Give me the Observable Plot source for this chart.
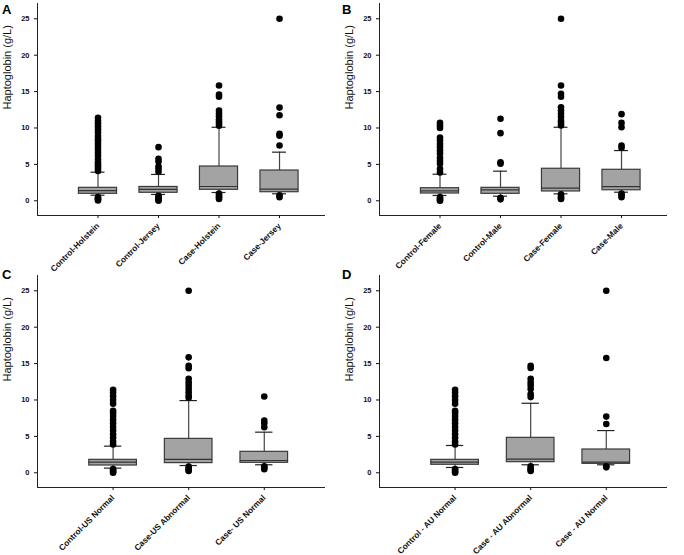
<!DOCTYPE html>
<html>
<head>
<meta charset="utf-8">
<script src="https://cdn.jsdelivr.net/npm/d3@7"></script>
<script src="https://cdn.jsdelivr.net/npm/@observablehq/plot@0.6"></script>
<style>
  html, body { margin: 0; padding: 0; background: #fff; }
  #root { position: relative; width: 684px; height: 555px; background: #fff; font-family: "Liberation Sans", Arial, sans-serif; overflow: hidden; }
  .panel { position: absolute; width: 342px; }
  .letter { position: absolute; font-size: 13px; font-weight: bold; line-height: 13px; color: #000; }
</style>
</head>
<body>
<div id="root"></div>
<script>
// ---------- Panel A ----------
const catsA = ["Control-Holstein", "Control-Jersey", "Case-Holstein", "Case-Jersey"];
const loA  = [0.77, 0.87, 1.14, 0.96];
const q1A  = [0.96, 1.10, 1.51, 1.18];
const medA = [1.41, 1.56, 1.96, 1.60];
const q3A  = [1.78, 1.90, 4.71, 4.16];
const hiA  = [3.93, 3.62, 10.1, 6.68];
const outA = [
  [11.4, 11.0, 10.6, 10.2, 9.8, 9.4, 8.9, 8.5, 8.2, 7.8, 7.4, 7.0, 6.6, 6.2, 5.7, 5.3, 5.0, 4.7, 4.4, 4.1, 0.5, 0.35, 0.2, 0.05],
  [7.37, 5.77, 5.4, 4.7, 4.4, 4.0, 0.7, 0.5, 0.3, 0.1, 0.0],
  [15.84, 14.6, 14.3, 12.4, 12.0, 11.6, 11.2, 10.9, 10.6, 10.3, 1.0, 0.8, 0.6, 0.4, 0.25],
  [25.0, 12.8, 11.75, 9.2, 8.95, 7.6, 0.75, 0.5]
];

// ---------- Panel B ----------
const catsB = ["Control-Female", "Control-Male", "Case-Female", "Case-Male"];
const loB  = [0.73, 0.63, 0.96, 1.18];
const q1B  = [1.00, 0.96, 1.28, 1.45];
const medB = [1.37, 1.51, 1.74, 1.95];
const q3B  = [1.73, 1.78, 4.40, 4.26];
const hiB  = [3.65, 4.07, 10.1, 6.9];
const outB = [
  [10.7, 10.35, 10.0, 8.7, 8.3, 7.8, 7.4, 6.9, 6.5, 5.9, 5.5, 5.1, 4.4, 3.9, 0.5, 0.3, 0.1, 0.0],
  [11.26, 9.29, 5.3, 5.1, 0.4, 0.2],
  [25.0, 15.84, 14.7, 14.3, 12.85, 12.4, 11.95, 11.5, 11.0, 10.7, 10.35, 0.9, 0.6, 0.4, 0.25],
  [11.9, 10.7, 10.1, 7.6, 7.3, 1.0, 0.8, 0.5]
];

// ---------- Panel C ----------
const catsC = ["Control-US Normal", "Case-US Abnormal", "Case- US Normal"];
const loC  = [0.64, 1.0, 1.1];
const q1C  = [1.0, 1.33, 1.37];
const medC = [1.46, 1.83, 1.69];
const q3C  = [1.78, 4.66, 2.88];
const hiC  = [3.66, 9.92, 5.58];
const outC = [
  [11.4, 11.0, 10.5, 10.0, 9.5, 8.5, 8.2, 7.8, 7.3, 6.8, 6.3, 5.8, 5.3, 4.8, 4.3, 3.9, 0.5, 0.3, 0.1, 0.0],
  [25.0, 15.86, 14.7, 14.35, 12.9, 12.4, 11.97, 11.5, 11.06, 10.6, 10.3, 0.85, 0.6, 0.4, 0.25],
  [10.47, 7.18, 6.8, 6.26, 0.9, 0.7, 0.5]
];

// ---------- Panel D ----------
const catsD = ["Control - AU Normal", "Case - AU Abnormal", "Case - AU Normal"];
const loD  = [0.73, 1.1, 1.1];
const q1D  = [1.1, 1.46, 1.23];
const medD = [1.46, 1.87, 1.46];
const q3D  = [1.78, 4.8, 3.2];
const hiD  = [3.75, 9.55, 5.8];
const outD = [
  [11.4, 11.0, 10.5, 10.0, 9.5, 8.5, 8.2, 7.8, 7.3, 6.8, 6.3, 5.8, 5.3, 4.8, 4.3, 3.9, 0.5, 0.3, 0.1, 0.0],
  [14.7, 14.4, 12.9, 12.4, 12.0, 11.5, 10.8, 10.4, 0.9, 0.6, 0.4, 0.25],
  [25.0, 15.77, 7.72, 6.7, 0.9, 0.75]
];

const yTicks = [0, 5, 10, 15, 20, 25];
const yLabel = "Haptoglobin (g/L)";

function panel(cats, lo, q1, med, q3, hi, outs, xMax, h) {
  const rows = cats.map((c, k) => ({i: k + 1, lo: lo[k], q1: q1[k], med: med[k], q3: q3[k], hi: hi[k]}));
  const pts = outs.flatMap((arr, k) => arr.map(v => ({i: k + 1, v})));
  const bw = 0.63 / 2, cw = 0.23 / 2;
  const yDom = [-2.02, 27.1];
  return Plot.plot({
    width: 342, height: h,
    marginLeft: 37, marginRight: 17, marginTop: 3, marginBottom: h - 215,
    style: {fontFamily: "'Liberation Sans', Arial, sans-serif", background: "transparent", color: "#111", overflow: "visible"},
    x: {domain: [0, xMax]},
    y: {domain: yDom},
    marks: [
      Plot.ruleX([0], {stroke: "#222", strokeWidth: 1}),
      Plot.ruleY([yDom[0]], {stroke: "#222", strokeWidth: 1}),
      Plot.axisY({ticks: yTicks, tickSize: 3, tickPadding: 5, fontSize: 7.5, fontWeight: "bold", label: null}),
      Plot.axisX({ticks: rows.map(d => d.i), tickFormat: i => cats[i - 1], tickRotate: -45, tickSize: 3, tickPadding: 6, fontSize: 8.3, fontWeight: "bold", label: null}),
      Plot.text([yLabel], {frameAnchor: "left", dx: -30, rotate: -90, fontSize: 11, fill: "#111", text: d => d}),
      // whiskers
      Plot.ruleX(rows, {x: "i", y1: "q3", y2: "hi", stroke: "#444", strokeWidth: 1.2}),
      Plot.ruleX(rows, {x: "i", y1: "lo", y2: "q1", stroke: "#444", strokeWidth: 1.2}),
      // boxes
      Plot.rect(rows, {x1: d => d.i - bw, x2: d => d.i + bw, y1: "q1", y2: "q3", fill: "#a3a3a3", stroke: "#3a3a3a", strokeWidth: 1.2}),
      // median
      Plot.ruleY(rows, {y: "med", x1: d => d.i - bw, x2: d => d.i + bw, stroke: "#333", strokeWidth: 1.2}),
      // caps
      Plot.ruleY(rows, {y: "hi", x1: d => d.i - cw, x2: d => d.i + cw, stroke: "#222", strokeWidth: 1.2}),
      Plot.ruleY(rows, {y: "lo", x1: d => d.i - cw, x2: d => d.i + cw, stroke: "#222", strokeWidth: 1.2}),
      // outliers
      Plot.dot(pts, {x: "i", y: "v", r: 3.3, fill: "#000", stroke: "none"})
    ]
  });
}

const root = document.getElementById("root");
function place(node, left, top) {
  const d = document.createElement("div");
  d.className = "panel";
  d.style.left = left + "px";
  d.style.top = top + "px";
  d.appendChild(node);
  root.appendChild(d);
}
function letter(t, left, top) {
  const d = document.createElement("div");
  d.className = "letter";
  d.textContent = t;
  d.style.left = left + "px";
  d.style.top = top + "px";
  root.appendChild(d);
}

place(panel(catsA, loA, q1A, medA, q3A, hiA, outA, 4.76, 272), 0, 0);
place(panel(catsB, loB, q1B, medB, q3B, hiB, outB, 4.76, 272), 342, 0);
place(panel(catsC, loC, q1C, medC, q3C, hiC, outC, 3.81, 283), 0, 272);
place(panel(catsD, loD, q1D, medD, q3D, hiD, outD, 3.81, 283), 342, 272);
letter("A", 2, 3);
letter("B", 342, 3);
letter("C", 2, 268);
letter("D", 342, 268);
</script>
</body>
</html>
